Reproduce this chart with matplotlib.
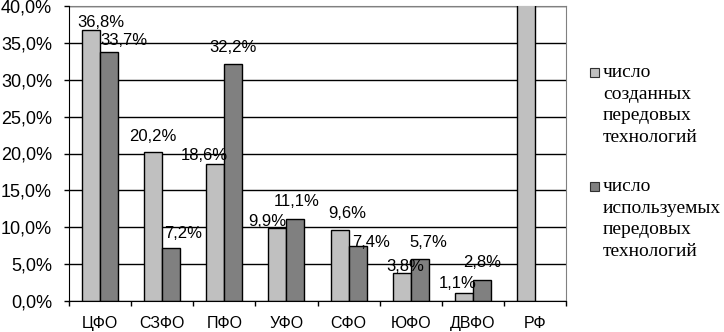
import numpy as np
import matplotlib.pyplot as plt
from matplotlib.patches import Rectangle
from matplotlib.ticker import FixedLocator

# данные
okruga = ["ЦФО", "СЗФО", "ПФО", "УФО", "СФО", "ЮФО", "ДВФО", "РФ"]
sozdannye = [36.8, 20.2, 18.6, 9.9, 9.6, 3.8, 1.1, 100.0]
ispolzuemye = [33.7, 7.2, 32.2, 11.1, 7.4, 5.7, 2.8, np.nan]
legenda = ["число\nсозданных\nпередовых\nтехнологий",
           "число\nиспользуемых\nпередовых\nтехнологий"]

# сдвиги подписей (px): dx, зазор над столбцом
sdvig_1 = [(10, 3), (0, 11), (-11, 4), (-10, 2), (8, 12), (4, 2), (-6, 5), None]
sdvig_2 = [(15, 7), (12, 10), (0, 12), (1, 13), (13, -1), (9, 12), (0, 13), None]

cvet_1 = "#c0c0c0"
cvet_2 = "#808080"

plt.rcParams['font.family'] = ['Liberation Sans', 'DejaVu Sans']

fig = plt.figure(figsize=(7.24, 3.32), dpi=100)
ax = fig.add_axes([69/724, 31/332, 497/724, 295/332])

k = 0.72  # px -> pt

x = np.arange(len(okruga))
w = 0.29
ax.bar(x - w/2, sozdannye, w, color=cvet_1, edgecolor="black", linewidth=1, zorder=3)
ax.bar(x + w/2, ispolzuemye, w, color=cvet_2, edgecolor="black", linewidth=1, zorder=3)

def fmt(v):
    return f"{v:.1f}%".replace(".", ",")

for vals, sdv, dx_bar in [(sozdannye, sdvig_1, -w/2), (ispolzuemye, sdvig_2, w/2)]:
    for i, v in enumerate(vals):
        if sdv[i] is None or np.isnan(v):
            continue
        dx, dy = sdv[i]
        ax.annotate(fmt(v), xy=(x[i] + dx_bar, v), xytext=(dx*k, dy*k),
                    textcoords="offset points", ha="center", va="baseline",
                    fontsize=12, zorder=4)

ax.set_xlim(-0.5, len(okruga) - 0.5)
ax.set_ylim(0, 40)
ax.set_yticks(np.arange(0, 41, 5))
ax.set_yticklabels([fmt(t) for t in np.arange(0, 41, 5)], fontsize=13)
ax.yaxis.grid(True, color="black", linewidth=1, zorder=0)
ax.tick_params(axis="y", length=5*k, width=1, pad=12*k, color="black")

ax.set_xticks(x)
ax.set_xticklabels(okruga, fontsize=11.5)
ax.tick_params(axis="x", which="major", length=0, pad=15*k)
ax.xaxis.set_minor_locator(FixedLocator(np.arange(-0.5, len(okruga), 1)))
ax.tick_params(axis="x", which="minor", length=5*k, width=1, color="black")

for s in ["left", "bottom"]:
    ax.spines[s].set_color("black")
    ax.spines[s].set_zorder(5)
for s in ["top", "right"]:
    ax.spines[s].set_color("#808080")

# легенда
leg_y = [78, 192]
for j, (txt, c) in enumerate(zip(legenda, [cvet_1, cvet_2])):
    y0 = leg_y[j]
    fig.add_artist(Rectangle((590/724, 1 - (y0 - 1)/332), 9/724, 9/332,
                             transform=fig.transFigure, facecolor=c,
                             edgecolor="#303030", linewidth=0.8))
    fig.text(603/724, 1 - (y0 - 14)/332, txt, family=['Liberation Serif', 'DejaVu Serif'],
             fontsize=14, va="top", ha="left", linespacing=1.35)

fig.savefig("out.png", dpi=100)
